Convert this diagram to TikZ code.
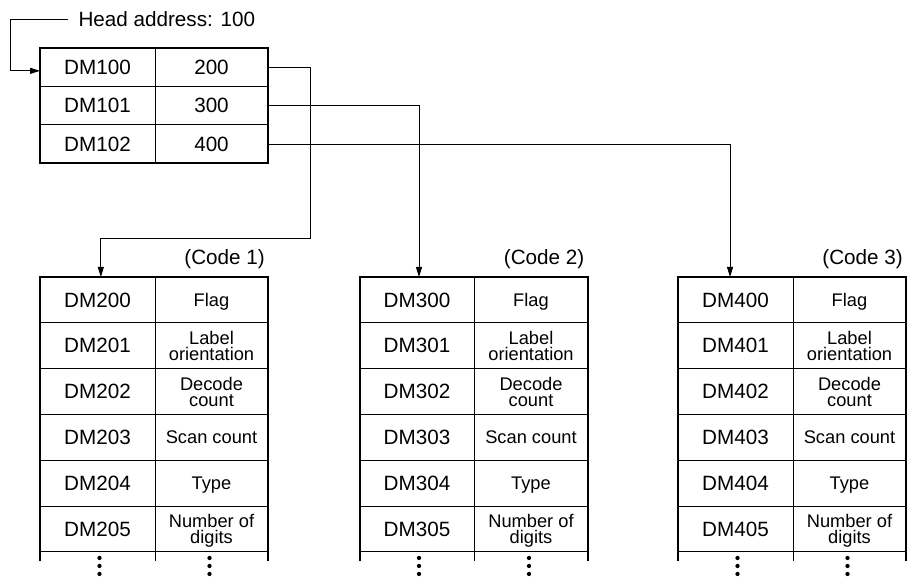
\documentclass[tikz,border=0pt]{standalone}
\usepackage{fontspec}
\setmainfont{Liberation Sans}
\usetikzlibrary{positioning, arrows.meta, calc}

\begin{document}
\begin{tikzpicture}[x=0.75pt, y=-0.75pt, line width=0.75pt,
  txt/.style={font=\fontsize{15.5pt}{18pt}\selectfont},
  cell/.style={draw, line width=0.75pt, inner sep=0pt, outer sep=0pt, txt},
  keycell/.style={cell, minimum width=86.25pt, minimum height=28.75pt},
  valcell/.style={cell, minimum width=84.75pt, minimum height=28.75pt},
  dmcell/.style={cell, minimum width=86.25pt, minimum height=34.37pt},
  labcell/.style={cell, minimum width=84.75pt, minimum height=34.37pt, align=center,
    text depth=0pt, font=\fontsize{13.7pt}{12pt}\selectfont},
  border/.style={line width=1.5pt},
  arrow/.style={-{Triangle[length=7.5pt, width=4.5pt]}, line width=0.75pt}]
\useasboundingbox (0,0) rectangle (907,578);

% head table
\foreach \n [count=\i from 0] in {200,300,400} {
  \node[keycell] (k\i) at (97.5, 67.5+38.33*\i) {DM10\i};
  \node[valcell, right=0pt of k\i] (v\i) {\n};
}
\draw[border] (k0.north west) rectangle (v2.south east);

\node[txt, anchor=west, inner xsep=7.5pt, inner ysep=0pt] (head) at (68,19) {Head address: 100};
\coordinate (headbend) at (10,19);
\draw[arrow] (head.west) -- (headbend) |- ([yshift=-2.5pt]k0.west);

% code tables
\foreach \t/\L/\m in {1/40/2, 2/359.5/3, 3/678/4} {
  \foreach \lab [count=\r from 0] in {Flag, {Label\\orientation}, {Decode\\count}, Scan count, Type, {Number of\\digits}} {
    \node[dmcell] (d\t-\r) at (\L+57.5, 299.9+45.83*\r) {DM\m0\r};
    \node[labcell, right=0pt of d\t-\r] (f\t-\r) {\lab};
  }
  \draw[border] ([yshift=-6.75pt]d\t-5.south west) -- (d\t-0.north west) -- (f\t-0.north east) -- ([yshift=-6.75pt]f\t-5.south east);
  \draw ([yshift=-6.75pt]f\t-5.south west) -- (f\t-5.south west);
  \foreach \dy in {4.5,10.5,16.5} {
    \fill ([xshift=1.5pt, yshift=-\dy pt]d\t-5.south) circle (1.6pt);
    \fill ([xshift=-1.5pt, yshift=-\dy pt]f\t-5.south) circle (1.6pt);
  }
  \node[txt, anchor=base east, inner sep=0pt] (code\t) at ([xshift=-2pt, yshift=9pt]f\t-0.north east) {(Code \t)};
}

% pointers
\coordinate (bend1) at (310,238);
\draw[arrow] (v0.east) -| (bend1) -| ([xshift=2.5pt]d1-0.north);
\draw[arrow] (v1.east) -| ([xshift=1.5pt]d2-0.north);
\draw[arrow] (v2.east) -| ([xshift=-4.1pt]d3-0.north);
\end{tikzpicture}
\end{document}
